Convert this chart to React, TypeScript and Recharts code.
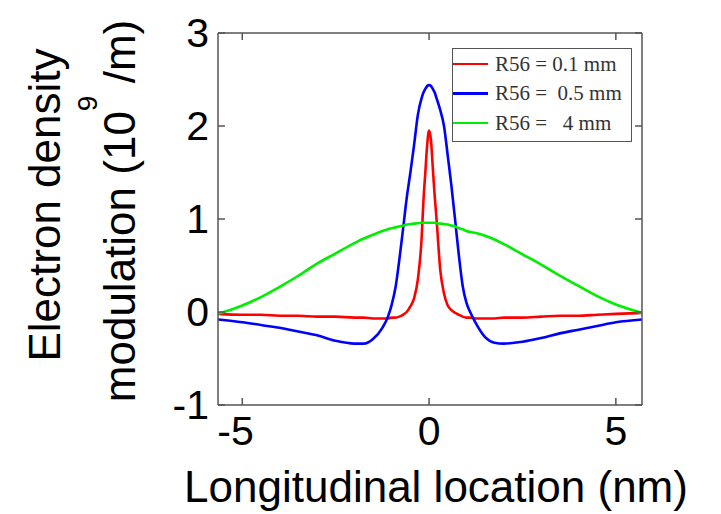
import React from 'react';
import { LineChart, Line, XAxis, YAxis, Legend } from 'recharts';

// longitudinal location (nm)
const xs = [
  -5.65, -5, -4.5, -4, -3.5, -3, -2.5, -2, -1.75, -1.5, -1.25, -1.1, -1, -0.9, -0.8, -0.7, -0.6,
  -0.5, -0.4, -0.3, -0.2, -0.15, -0.1, -0.05, 0, 0.05, 0.1, 0.15, 0.2, 0.3, 0.4, 0.5, 0.6, 0.7,
  0.8, 0.9, 1.0, 1.1, 1.25, 1.5, 1.75, 2, 2.5, 3, 3.5, 4, 4.5, 5, 5.7,
];

// R56 = 0.1 mm
const r56Small = [
  -0.02, -0.03, -0.03, -0.04, -0.04, -0.05, -0.05, -0.06, -0.06, -0.07, -0.07, -0.07, -0.06, -0.06,
  -0.05, -0.03, 0.0, 0.06, 0.15, 0.35, 0.79, 1.2, 1.5, 1.8, 1.95, 1.85, 1.55, 1.25, 1.0, 0.45, 0.2,
  0.07, 0.02, -0.01, -0.03, -0.05, -0.06, -0.06, -0.07, -0.07, -0.07, -0.06, -0.06, -0.05, -0.04,
  -0.04, -0.03, -0.02, -0.01,
];

// R56 = 0.5 mm
const r56Mid = [
  -0.08, -0.11, -0.14, -0.17, -0.21, -0.25, -0.31, -0.34, -0.34, -0.29, -0.17, -0.05, 0.08, 0.26,
  0.55, 0.88, 1.22, 1.5, 1.8, 2.12, 2.3, 2.36, 2.4, 2.43, 2.44, 2.43, 2.4, 2.36, 2.3, 2.17, 2.0,
  1.68, 1.35, 0.98, 0.6, 0.28, 0.1, 0.0, -0.12, -0.27, -0.33, -0.34, -0.32, -0.28, -0.23, -0.19,
  -0.15, -0.11, -0.08,
];

// R56 = 4 mm
const r56Large = [
  -0.02, 0.07, 0.16, 0.27, 0.39, 0.52, 0.63, 0.74, 0.79, 0.83, 0.87, 0.89, 0.9, 0.91, 0.92, 0.93,
  0.94, 0.945, 0.95, 0.955, 0.96, 0.96, 0.96, 0.96, 0.96, 0.96, 0.96, 0.96, 0.955, 0.95, 0.945,
  0.94, 0.93, 0.92, 0.9, 0.89, 0.87, 0.86, 0.85, 0.82, 0.78, 0.73, 0.62, 0.51, 0.39, 0.28, 0.17,
  0.08, -0.01,
];

const xTicks = [-5, 0, 5];
const yTicks = [-1, 0, 1, 2, 3];

const series = [
  { key: 'small', name: 'R56 = 0.1 mm', color: '#ff0000' },
  { key: 'mid', name: 'R56 =  0.5 mm', color: '#0000ff' },
  { key: 'large', name: 'R56 =   4 mm', color: '#00ee00' },
];

const data = xs.map((x, i) => ({ x, small: r56Small[i], mid: r56Mid[i], large: r56Large[i] }));

const font = '"Liberation Sans", Arial, sans-serif';
const boxColor = '#555';
const tickLen = 7;
const labelSize = 41;

// MATLAB-style inward ticks, labels drawn by hand
const BottomTick = ({ x, y, payload }: any) => (
  <g>
    <line x1={x} x2={x} y1={y} y2={y - tickLen} stroke={boxColor} strokeWidth={1.5} />
    <text x={x + 11.5} y={y + 40} textAnchor="end" fontFamily={font} fontSize={labelSize} fill="#000">
      {payload.value}
    </text>
  </g>
);

const LeftTick = ({ x, y, payload }: any) => (
  <g>
    <line x1={x} x2={x + tickLen} y1={y} y2={y} stroke={boxColor} strokeWidth={1.5} />
    <text x={x - 9} y={y + 14} textAnchor="end" fontFamily={font} fontSize={labelSize} fill="#000">
      {payload.value}
    </text>
  </g>
);

const TopTick = ({ x, y }: any) => (
  <line x1={x} x2={x} y1={y} y2={y + tickLen} stroke={boxColor} strokeWidth={1.5} />
);

const RightTick = ({ x, y }: any) => (
  <line x1={x} x2={x - tickLen} y1={y} y2={y} stroke={boxColor} strokeWidth={1.5} />
);

const LegendBox = () => (
  <div
    style={{
      position: 'relative',
      width: 178,
      height: 92,
      border: `1.5px solid ${boxColor}`,
      background: '#fff',
      fontFamily: '"Liberation Serif", "Times New Roman", serif',
      fontSize: 21,
      color: '#333',
    }}
  >
    {series.map((s, i) => (
      <div key={s.key} style={{ position: 'absolute', left: 0, top: 2 + i * 29.5, height: 26, display: 'flex', alignItems: 'center' }}>
        <div style={{ width: 35, height: 2.6, background: s.color }} />
        <span style={{ marginLeft: 7, whiteSpace: 'pre' }}>{s.name}</span>
      </div>
    ))}
  </div>
);

const YTitle = () => (
  <g fontFamily={font} fontSize={44} fill="#000">
    <text x={60} y={205} textAnchor="middle" transform="rotate(-90, 60, 205)">
      Electron density
    </text>
    <text x={135} y={211} textAnchor="middle" transform="rotate(-90, 135, 211)" style={{ whiteSpace: 'pre' }}>
      modulation (10
      <tspan fontSize={28} dy={-38}>9</tspan>
      <tspan dy={38}> /m)</tspan>
    </text>
  </g>
);

const XTitle = () => (
  <text x={436} y={502} textAnchor="middle" fontFamily={font} fontSize={44} fill="#000">
    Longitudinal location (nm)
  </text>
);

const axisLine = { stroke: boxColor, strokeWidth: 1.5 };

export default function App() {
  return (
    <div style={{ position: 'absolute', left: 0, top: 0, width: 721, height: 514, background: '#fff' }}>
      <LineChart width={721} height={514} data={data} margin={{ top: 32, right: 78, bottom: 0, left: 0 }}>
        <XAxis
          dataKey="x"
          type="number"
          domain={[-5.65, 5.7]}
          ticks={xTicks}
          interval={0}
          allowDataOverflow
          height={109}
          tickSize={0}
          tickMargin={0}
          tickLine={false}
          tick={BottomTick}
          axisLine={axisLine}
          label={() => <XTitle />}
        />
        <XAxis
          xAxisId="top"
          orientation="top"
          dataKey="x"
          type="number"
          domain={[-5.65, 5.7]}
          ticks={xTicks}
          interval={0}
          allowDataOverflow
          height={1}
          tickSize={0}
          tickMargin={0}
          tickLine={false}
          tick={TopTick}
          axisLine={axisLine}
        />
        <YAxis
          type="number"
          domain={[-1, 3]}
          ticks={yTicks}
          interval={0}
          allowDataOverflow
          width={218}
          tickSize={0}
          tickMargin={0}
          tickLine={false}
          tick={LeftTick}
          axisLine={axisLine}
          label={() => <YTitle />}
        />
        <YAxis
          yAxisId="right"
          orientation="right"
          type="number"
          domain={[-1, 3]}
          ticks={yTicks}
          interval={0}
          allowDataOverflow
          width={1}
          tickSize={0}
          tickMargin={0}
          tickLine={false}
          tick={RightTick}
          axisLine={axisLine}
        />
        <Legend
          layout="vertical"
          align="center"
          verticalAlign="middle"
          wrapperStyle={{ left: 452, top: 48, width: 181, height: 95 }}
          content={() => <LegendBox />}
        />
        {series.map((s) => (
          <Line
            key={s.key}
            type="monotone"
            dataKey={s.key}
            name={s.name}
            stroke={s.color}
            strokeWidth={2.6}
            dot={false}
            activeDot={false}
            isAnimationActive={false}
          />
        ))}
      </LineChart>
    </div>
  );
}
